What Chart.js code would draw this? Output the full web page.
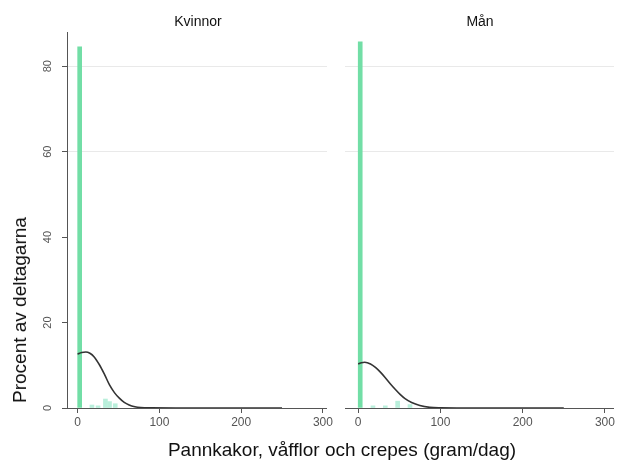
<!DOCTYPE html>
<html>
<head>
<meta charset="utf-8">
<script src="https://cdn.jsdelivr.net/npm/chart.js@4.4.1/dist/chart.umd.min.js"></script>
<style>
  body { margin: 0; background: #fff; font-family: "Liberation Sans", Arial, sans-serif; }
  #wrap { position: relative; width: 617px; height: 463px; overflow: hidden; }
  canvas { position: absolute; top: 0; }
  .lbl { position: absolute; color: #111; white-space: nowrap; }
</style>
</head>
<body>
<div id="wrap">
  <canvas id="cK" width="335" height="463" style="left:0;width:335px;height:463px"></canvas>
  <canvas id="cM" width="282" height="463" style="left:335px;width:282px;height:463px"></canvas>
  <div class="lbl" style="left:198px;top:13px;font-size:14px;transform:translateX(-50%)">Kvinnor</div>
  <div class="lbl" style="left:480px;top:13px;font-size:14px;transform:translateX(-50%)">Mån</div>
  <div class="lbl" style="left:342px;top:439px;font-size:19px;transform:translateX(-50%)">Pannkakor, våfflor och crepes (gram/dag)</div>
  <div class="lbl" style="left:20px;top:310px;font-size:19px;transform:translate(-50%,-50%) rotate(-90deg)">Procent av deltagarna</div>
</div>
<script>
const xTicks = [0, 100, 200, 300];
const yTicks = [0, 20, 40, 60, 80];

// histogram (bin centre, percent)
const kvinnorBinX = [2.5, 17.5, 25, 34, 39, 46];
const kvinnorBinY = [84.5, 0.7, 0.5, 2.1, 1.5, 1.0];
const manBinX = [2.5, 18, 33, 48, 63];
const manBinY = [85.7, 0.5, 0.5, 1.6, 0.8];

// density curve (gram/dag, percent)
const kvinnorCurveX = [0, 5, 10, 15, 20, 27, 33, 39, 45, 51, 57, 63, 70, 77, 90, 120, 180, 250];
const kvinnorCurveY = [12.6, 13.0, 13.1, 12.8, 12.0, 10.0, 7.8, 5.4, 3.6, 2.3, 1.3, 0.7, 0.3, 0.1, 0.02, 0, 0, 0];
const manCurveX = [0, 4, 8, 15, 21, 27, 33, 39, 45, 51, 57, 65, 75, 87, 100, 120, 180, 250];
const manCurveY = [10.3, 10.6, 10.7, 10.3, 9.5, 8.4, 7.1, 5.7, 4.4, 3.2, 2.2, 1.3, 0.6, 0.15, 0.03, 0, 0, 0];

const Y_MAX = 88;

function zip(xs, ys) { return xs.map((x, i) => ({ x: x, y: ys[i] })); }

function barColors(ys) {
  return ys.map((v, i) => i === 0 ? "#72dea6" : "#b9efdb");
}

const rotatedYTicks = {
  id: "rotatedYTicks",
  afterDraw(chart, args, opts) {
    if (!opts.show) return;
    const ctx = chart.ctx;
    const y = chart.scales.y;
    ctx.save();
    ctx.fillStyle = "#555";
    ctx.font = "11px 'Liberation Sans', Arial, sans-serif";
    ctx.textAlign = "center";
    ctx.textBaseline = "middle";
    yTicks.forEach(t => {
      ctx.save();
      ctx.translate(y.left + 48, y.getPixelForValue(t));
      ctx.rotate(-Math.PI / 2);
      ctx.fillText(String(t), 0, 0);
      ctx.restore();
    });
    ctx.restore();
  }
};

function makeChart(id, binX, binY, curveX, curveY, xMin, xMax, isLeft) {
  return new Chart(document.getElementById(id), {
    data: {
      datasets: [
        {
          type: "line",
          data: zip(curveX, curveY),
          borderColor: "#333",
          borderWidth: 1.6,
          pointRadius: 0,
          cubicInterpolationMode: "monotone",
          fill: false,
          order: 0
        },
        {
          type: "bar",
          data: zip(binX, binY),
          backgroundColor: barColors(binY),
          barThickness: 4,
          order: 1
        }
      ]
    },
    options: {
      responsive: false,
      animation: false,
      layout: { padding: { top: 32, left: isLeft ? 0 : 10, right: isLeft ? 5 : 2 } },
      plugins: { legend: { display: false }, tooltip: { enabled: false }, rotatedYTicks: { show: isLeft } },
      scales: {
        x: {
          type: "linear",
          min: xMin,
          max: xMax,
          offset: false,
          afterBuildTicks: s => { s.ticks = xTicks.map(v => ({ value: v })); },
          afterFit: s => { s.height = 55; },
          grid: { display: true, offset: false, drawOnChartArea: false, tickLength: 5, color: "#555" },
          border: { color: "#555", width: 1 },
          ticks: { color: "#555", font: { size: 12, family: "'Liberation Sans', Arial, sans-serif" }, padding: 2, maxRotation: 0 }
        },
        y: {
          type: "linear",
          min: 0,
          max: Y_MAX,
          afterBuildTicks: s => { s.ticks = yTicks.map(v => ({ value: v })); },
          afterFit: s => { s.width = isLeft ? 67 : 0; },
          grid: {
            color: c => (c.tick && c.tick.value >= 60) ? "#e9e9e9" : "rgba(0,0,0,0)",
            tickColor: "#555",
            tickLength: 5,
            drawTicks: isLeft
          },
          border: { display: isLeft, color: "#555", width: 1 },
          ticks: { display: false }
        }
      }
    },
    plugins: [rotatedYTicks]
  });
}

makeChart("cK", kvinnorBinX, kvinnorBinY, kvinnorCurveX, kvinnorCurveY, -13, 305, true);
makeChart("cM", manBinX, manBinY, manCurveX, manCurveY, -16, 311, false);
</script>
</body>
</html>
